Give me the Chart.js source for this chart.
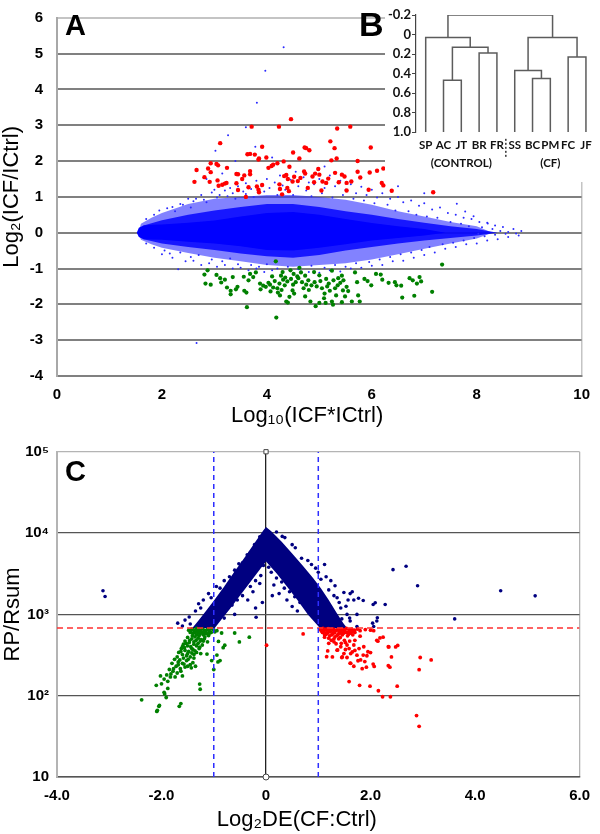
<!DOCTYPE html>
<html>
<head>
<meta charset="utf-8">
<script src="https://cdn.jsdelivr.net/npm/chart.js@4.4.1/dist/chart.umd.min.js"></script>
<style>
  html, body { margin: 0; padding: 0; background: #fff; }
  #wrap { position: relative; width: 600px; height: 834px; overflow: hidden; }
  canvas { position: absolute; }
  #chartA { left: 0; top: 0; }
  #chartB { left: 385px; top: 0; background: #fff; }
  #chartC { left: 0; top: 440px; }
  .panel { position: absolute; font: bold 29px "Liberation Sans", Arial, sans-serif; line-height: 1; color: #000; }
</style>
</head>
<body>
<div id="wrap">
  <canvas id="chartA" width="600" height="440"></canvas>
  <canvas id="chartB" width="215" height="182"></canvas>
  <canvas id="chartC" width="600" height="394"></canvas>
  <div class="panel" style="left:65px; top:11px;">A</div>
  <div class="panel" style="left:359px; top:7px; font-size:34px;">B</div>
  <div class="panel" style="left:65px; top:457px;">C</div>
</div>
<script>
// ---------- Panel A : MA plot (log10 intensity product vs log2 ratio) ----------
// envelopes of the dense blue cloud (upper / lower edge per x)
const aHaloX   = [1.55, 1.6, 1.8, 2.0, 2.5, 3.0, 3.5, 4.0, 4.5, 5.0, 5.5, 6.0, 6.5, 7.0, 7.5, 8.0, 8.3];
const aHaloUp  = [0.0, 0.25, 0.42, 0.55, 0.8, 0.95, 1.0, 1.05, 1.05, 1.0, 0.92, 0.78, 0.6, 0.45, 0.3, 0.18, 0.0];
const aHaloLow = [0.0, -0.2, -0.32, -0.42, -0.57, -0.7, -0.8, -0.9, -0.95, -0.9, -0.85, -0.75, -0.6, -0.45, -0.3, -0.16, 0.0];

const aMidX   = [1.55, 1.65, 2.0, 2.5, 3.0, 3.5, 4.0, 4.5, 5.0, 5.5, 6.0, 6.5, 7.0, 7.5, 8.0, 8.4];
const aMidUp  = [0.0, 0.2, 0.35, 0.5, 0.62, 0.72, 0.8, 0.8, 0.72, 0.6, 0.5, 0.38, 0.28, 0.18, 0.1, 0.0];
const aMidLow = [0.0, -0.18, -0.3, -0.4, -0.48, -0.58, -0.66, -0.7, -0.62, -0.5, -0.4, -0.3, -0.22, -0.15, -0.08, 0.0];

const aCoreX   = [1.52, 1.56, 1.65, 1.8, 2.0, 2.5, 3.0, 3.5, 4.0, 4.5, 5.0, 5.5, 6.0, 6.5, 7.0, 7.4];
const aCoreUp  = [0.0, 0.14, 0.2, 0.22, 0.23, 0.28, 0.34, 0.45, 0.55, 0.58, 0.5, 0.38, 0.27, 0.18, 0.1, 0.0];
const aCoreLow = [0.0, -0.12, -0.18, -0.19, -0.2, -0.25, -0.3, -0.38, -0.48, -0.5, -0.42, -0.32, -0.22, -0.15, -0.08, 0.0];

// sparse blue spots around and outside the dense cloud
const aBluePoints = [
  [2.2,0.72],[2.35,0.8],[2.5,0.95],[2.6,0.88],[2.75,1.05],[2.8,0.92],[2.95,1.12],[3.0,1.2],[3.1,1.05],[3.2,1.18],
  [3.3,1.25],[3.35,1.1],[3.45,1.3],[3.55,1.15],[3.6,1.38],[3.7,1.22],[3.8,1.45],[3.9,1.3],[4.0,1.5],[4.05,1.25],
  [4.15,1.4],[4.25,1.6],[4.3,1.32],[4.45,1.48],[4.55,1.7],[4.6,1.3],[4.7,1.55],[4.8,1.4],[4.9,1.35],[5.0,1.5],
  [5.1,1.25],[5.2,1.6],[5.3,1.3],[5.4,1.45],[5.5,1.2],[5.6,1.35],[5.7,1.1],[5.8,1.28],[5.9,1.05],[6.0,1.2],
  [6.1,0.98],[6.2,1.1],[6.35,0.95],[6.5,1.0],[6.6,0.85],[6.75,0.9],[6.9,0.75],[7.0,0.82],[7.15,0.65],[7.3,0.7],
  [7.45,0.55],[7.6,0.5],[7.75,0.42],[7.9,0.38],[8.05,0.3],[8.2,0.28],[8.35,0.2],[8.5,0.16],[8.7,0.1],[8.85,0.05],
  [2.0,-0.6],[2.2,-0.7],[2.31,-1.02],[2.45,-0.8],[2.6,-0.78],[2.75,-0.9],[2.9,-0.85],[3.05,-0.95],[3.2,-0.9],[3.35,-1.0],
  [3.5,-0.98],[3.65,-1.05],[3.8,-1.0],[3.95,-1.1],[4.1,-1.05],[4.3,-1.12],[4.5,-1.15],[4.65,-1.08],[4.8,-1.1],[5.0,-1.12],
  [5.2,-1.05],[5.4,-1.08],[5.6,-1.0],[5.8,-0.98],[6.0,-0.92],[6.2,-0.9],[6.4,-0.8],[6.6,-0.78],[6.8,-0.7],[7.0,-0.62],
  [7.2,-0.55],[7.4,-0.45],[7.6,-0.4],[7.8,-0.32],[8.0,-0.3],[8.2,-0.22],[8.4,-0.18],[8.6,-0.12],[8.8,-0.08],
  [1.7,0.38],[1.85,0.5],[1.95,0.62],[2.1,0.68],[2.25,0.6],[2.4,0.78],[2.55,0.7],[2.65,0.95],[2.85,0.85],[3.05,0.98],
  [3.25,1.02],[3.4,0.95],[3.6,1.08],[3.75,1.0],[3.95,1.15],[4.2,1.05],[4.35,1.2],[4.5,1.05],[4.75,1.18],[4.85,1.02],
  [5.05,1.1],[5.25,0.98],[5.45,1.05],[5.65,0.95],[5.85,0.9],[6.05,0.82],[6.3,0.78],[6.45,0.62],[6.7,0.6],[6.85,0.5],
  [7.05,0.45],[7.25,0.42],[7.5,0.3],[7.7,0.25],[7.85,0.18],[8.1,0.15],[8.3,0.1],[8.45,0.05],[8.6,0.02],[8.75,-0.02],
  [1.7,-0.3],[1.85,-0.42],[2.05,-0.5],[2.15,-0.58],[2.35,-0.55],[2.55,-0.68],[2.7,-0.62],[2.95,-0.75],[3.15,-0.8],[3.3,-0.72],
  [3.45,-0.88],[3.7,-0.9],[3.85,-0.95],[4.0,-0.88],[4.2,-1.0],[4.4,-0.95],[4.6,-1.02],[4.85,-0.92],[5.1,-0.98],[5.3,-0.9],
  [5.5,-0.95],[5.7,-0.85],[5.95,-0.82],[6.15,-0.75],[6.35,-0.68],[6.55,-0.6],[6.75,-0.55],[6.95,-0.48],[7.1,-0.4],[7.35,-0.32],
  [7.55,-0.28],[7.75,-0.22],[7.95,-0.15],[8.15,-0.1],[8.35,-0.06],[8.55,-0.03],
  [4.32,5.18],[3.97,4.52],[3.81,3.63],[3.6,2.94],[3.26,2.72],[3.78,2.4],[4.1,2.1],[3.4,2.0],[3.02,2.29],[2.66,-3.08],
  [4.6,2.05],[5.1,1.85],[3.15,1.65],[2.85,1.5],[6.5,1.3],[7.0,1.1],[7.62,0.81],[7.78,0.59],[7.94,0.46],[8.21,0.26],[8.03,-0.03]
];

// up-regulated (red) and down-regulated (green) genes
const aUpPoints = [
  [2.62,1.42],[2.66,1.75],[2.81,1.55],[2.88,1.79],[2.91,1.42],[2.93,1.69],[2.93,1.94],[3.04,1.92],[3.07,1.88],[3.06,1.46],
  [3.08,1.31],[3.11,2.5],[3.15,1.34],[3.2,1.37],[3.23,1.39],[3.24,1.81],[3.42,1.64],[3.45,1.63],[3.42,1.38],[3.45,1.19],
  [3.53,1.5],[3.57,1.6],[3.6,1.0],[3.63,2.19],[3.68,2.2],[3.71,2.96],[3.77,2.18],[3.68,1.72],[3.68,1.63],[3.65,1.27],
  [3.81,1.29],[3.84,1.2],[3.84,2.04],[3.85,1.13],[3.91,2.4],[3.85,2.07],[3.99,2.1],[3.91,1.33],[4.03,1.81],[4.09,1.86],
  [4.12,1.9],[4.2,1.94],[4.23,2.96],[4.24,1.35],[4.25,1.22],[4.29,1.07],[4.32,1.99],[4.33,1.58],[4.37,1.61],[4.4,1.5],
  [4.39,1.25],[4.43,1.84],[4.46,3.17],[4.5,2.24],[4.52,1.56],[4.42,1.16],[4.49,1.43],[4.59,1.44],[4.62,2.07],[4.64,1.53],
  [4.71,1.71],[4.72,2.38],[4.73,1.65],[4.75,2.36],[4.78,1.25],[4.81,2.3],[4.87,1.57],[4.9,1.41],[4.92,1.65],[4.98,1.78],
  [5.0,1.62],[5.04,1.18],[5.06,1.43],[5.13,1.39],[5.17,1.51],[5.21,2.55],[5.23,2.02],[5.29,2.36],[5.33,2.07],[5.34,2.91],
  [5.3,1.67],[5.37,1.41],[5.43,1.62],[5.48,1.57],[5.52,1.39],[5.52,1.18],[5.59,2.96],[5.61,1.43],[5.73,2.0],[5.73,1.7],
  [5.78,1.54],[5.94,1.2],[5.96,1.68],[5.98,2.38],[6.1,1.73],[6.19,1.39],[6.22,1.79],[6.22,1.32],[6.38,1.17],[7.17,1.13]
];
const aDownPoints = [
  [2.81,-1.17],[2.83,-1.42],[2.87,-1.05],[2.93,-1.45],[3.04,-1.18],[3.11,-1.27],[3.13,-1.39],[3.2,-1.31],[3.24,-1.53],[3.31,-1.62],
  [3.31,-1.72],[3.35,-1.24],[3.41,-1.58],[3.44,-1.51],[3.56,-1.23],[3.57,-1.62],[3.61,-1.67],[3.62,-2.08],[3.65,-1.33],[3.68,-1.15],
  [3.74,-1.24],[3.79,-1.11],[3.87,-1.42],[3.88,-1.58],[3.93,-1.48],[3.98,-1.51],[4.03,-1.4],[4.06,-1.45],[4.07,-1.64],[4.12,-1.53],
  [4.17,-0.8],[4.18,-2.37],[4.21,-1.67],[4.24,-1.42],[4.27,-1.2],[4.31,-1.31],[4.34,-1.47],[4.37,-1.92],[4.4,-1.95],[4.43,-1.79],
  [4.46,-1.29],[4.49,-1.61],[4.51,-1.15],[4.35,-1.25],[4.39,-1.36],[4.3,-1.1],[4.45,-1.05],[4.55,-1.38],[4.58,-1.22],[4.6,-1.27],
  [4.62,-0.98],[4.65,-1.11],[4.67,-1.38],[4.73,-1.2],[4.73,-1.78],[4.79,-1.33],[4.83,-1.92],[4.85,-1.47],[4.9,-1.1],[4.91,-1.38],
  [4.93,-2.05],[5.0,-1.96],[5.0,-1.19],[5.05,-1.55],[5.09,-1.83],[5.12,-1.96],[5.13,-1.29],[5.18,-1.42],[5.24,-1.92],[5.24,-1.06],
  [5.26,-2.01],[5.27,-1.33],[5.35,-1.47],[5.36,-1.27],[5.43,-1.2],[5.43,-1.94],[5.45,-1.61],[5.46,-1.33],[5.49,-1.78],[5.52,-1.51],
  [5.55,-1.63],[5.62,-1.92],[5.68,-1.11],[5.72,-1.38],[5.74,-1.75],[5.77,-1.92],[5.86,-1.29],[5.92,-1.35],[5.99,-1.47],[6.08,-1.15],
  [6.17,-1.17],[6.2,-1.31],[6.32,-1.4],[6.44,-1.38],[6.47,-1.47],[6.56,-1.48],[6.58,-1.81],[6.72,-1.27],[6.78,-1.33],[6.81,-1.76],
  [6.86,-1.42],[6.91,-1.24],[6.94,-1.36],[7.15,-1.65],[7.34,-0.89],[4.1,-1.22],[4.15,-1.35],[4.2,-1.55],[4.25,-1.75],[4.28,-1.6],
  [4.5,-1.45],[4.52,-1.7],[4.7,-1.55],[4.75,-1.45],[4.8,-1.6],[4.95,-1.5],[5.02,-1.35],[5.1,-1.7],[5.15,-1.5],[5.2,-1.62],
  [5.3,-1.55],[5.32,-1.75],[5.4,-1.4]
];

// ---------- Panel B : sample dendrogram ----------
const leafLabels = ['SP', 'AC', 'JT', 'BR', 'FR', 'SS', 'BC', 'PM', 'FC', 'JF'];
const groupLabels = { 2: '(CONTROL)', 7: '(CF)' };
// each merge: left x, right x, merge height, left child height, right child height
const mergeLeft   = [1, 3, 1.5, 0, 6, 5, 8, 5.75, 1.25];
const mergeRight  = [2, 4, 3.5, 2.5, 7, 6.5, 9, 8.5, 7.125];
const mergeHeight = [0.47, 0.19, 0.13, 0.03, 0.45, 0.37, 0.23, 0.03, -0.2];
const mergeBaseL  = [1.0, 1.0, 0.47, 1.0, 1.0, 1.0, 1.0, 0.37, 0.03];
const mergeBaseR  = [1.0, 1.0, 0.19, 0.13, 1.0, 0.45, 1.0, 0.23, 0.03];
const dendroTicks = [-0.2, 0, 0.2, 0.4, 0.6, 0.8, 1.0];
const dendroTickLabels = ['-0.2', '0', '0.2', '0.4', '0.6', '0.8', '1.0'];

// ---------- Panel C : rank product plot ----------
const cBandX = [-1.41, -1.3, -1.15, -1.0, -0.8, -0.6, -0.4, -0.2, -0.05, 0, 0.1, 0.3, 0.5, 0.7, 0.9, 1.05, 1.2, 1.35, 1.48, 1.55,
                1.03, 0.8, 0.6, 0.4, 0.2, 0.08, 0, -0.1, -0.3, -0.5, -0.7, -0.85, -0.98];
const cBandY = [680, 830, 1100, 1470, 2200, 3400, 5100, 7900, 10800, 11900, 10500, 7800, 5600, 4000, 2800, 2100, 1500, 1050, 780, 680,
                680, 1000, 1500, 2200, 3200, 3900, 4470, 3700, 2500, 1700, 1150, 870, 680];

const cMidPoints = [
  [-0.1,3000],[-0.2,2600],[-0.3,2200],[-0.45,1700],[-0.55,1500],[-0.65,1300],[-0.35,1500],[-0.2,1200],[-0.07,1400],[-0.19,920],
  [0.1,3300],[0.2,2800],[0.3,2500],[0.35,2100],[0.45,1900],[0.55,1650],[0.65,1400],[0.75,1250],[0.4,1500],[0.25,1800],
  [0.15,2300],[0.05,3800],[-0.05,4000],[0.6,1100],[0.85,1000],[-0.8,900],[-0.25,1900],[-0.12,2400],[0.12,1700],[0.5,1250],
  [-0.4,2300],[-0.6,1000],
  [-1.29,1350],[-1.47,930],[-1.69,780],[-1.2,1500],[-1.1,1800],[-0.95,2200],[-0.8,2600],[-0.6,3500],[-0.45,4300],[-0.3,5800],
  [-1.35,1100],[-1.55,850],[-1.05,1600],[-0.88,2100],[-0.7,2900],[-0.52,4200],[-0.36,5400],[-0.22,7200],[-0.12,9000],[-1.45,760],
  [-1.6,720],[-1.25,1200],
  [0.31,9100],[0.36,8800],[0.56,6600],[0.68,4900],[0.87,4100],[1.12,4100],[1.0,3300],[1.24,2600],[1.32,2250],[1.49,1860],
  [1.61,1800],[1.68,1500],[1.74,1000],[2.05,1320],[2.28,1320],[2.12,830],[2.06,710],[1.74,710],[1.61,830],[1.43,1200],
  [1.53,1260],[1.57,1500],[1.65,1900],[1.77,1580],[1.86,1480],[2.09,1390],[1.15,2900],[1.3,1700],[1.4,1400],[1.55,1000],
  [1.6,900],[0.8,4600],[0.5,7200],[0.2,10300],[0.95,3700],[1.05,2700],[1.2,2000],[1.36,1600],[1.45,880],
  [-3.12,1950],[-3.08,1660],[2.43,3550],[2.68,3900],[2.9,2250],[4.49,1950],[5.15,1690],[3.61,880],[2.13,910],[2.04,780]
];
const cUpPoints = [
  [1.05,665],[1.1,640],[1.15,660],[1.2,630],[1.25,655],[1.3,620],[1.35,645],[1.4,610],[1.45,660],[1.5,630],
  [1.55,605],[1.6,650],[1.65,620],[1.08,600],[1.18,590],[1.28,580],[1.38,570],[1.48,585],[1.58,570],[1.7,600],
  [1.75,660],[1.12,560],[1.22,545],[1.32,530],[1.06,625],[1.8,630],[1.9,650],[2.0,640],[2.06,630],[2.18,513],
  [1.12,525],[1.25,480],[1.34,435],[1.43,400],[1.49,330],[1.59,380],[1.65,345],[1.74,315],[1.81,275],[1.87,400],
  [1.37,365],[1.27,300],[1.46,300],[1.62,250],[1.68,230],[1.93,310],[2.12,480],[2.24,525],[2.34,400],[2.37,224],
  [2.05,245],[1.84,215],[2.4,300],[2.52,415],[1.16,302],[1.18,355],[1.36,363],[1.45,295],[1.55,295],[1.61,251],
  [1.59,149],[1.79,134],[1.99,131],[2.15,115],[2.23,97],[2.38,97],[2.51,131],[2.34,234],[2.07,229],[1.92,224],
  [1.89,263],[1.76,269],[1.86,316],[1.95,347],[2.0,339],[2.14,468],[2.35,398],[2.48,398],[2.95,295],[2.93,209],
  [3.16,275],[2.88,57],[2.93,42],[0.71,575],[0.01,417],[1.7,480],[1.52,450],[1.42,520],[1.3,500],[1.2,440],
  [1.04,650],[1.09,670],[1.14,645],[1.19,668],[1.24,640],[1.29,660],[1.34,630],[1.39,655],[1.44,625],[1.49,648],
  [1.54,670],[1.59,620],[1.64,660],[1.69,640],[1.1,610],[1.16,595],[1.23,610],[1.31,595],[1.42,590],[1.52,600],
  [1.62,590],[1.15,570],[1.26,560],[1.36,550],[1.46,560],[1.56,545],[1.66,560],[1.2,510],[1.39,500],[1.5,480],
  [1.6,470],[1.3,460],[1.44,440],[1.55,420],[1.68,420],[1.78,380],[1.7,360],[1.52,370],[1.62,330],[1.8,540]
];
const cDownPoints = [
  [-1.42,660],[-1.38,640],[-1.33,670],[-1.28,650],[-1.22,665],[-1.18,640],[-1.12,655],[-1.05,670],[-1.0,645],[-1.35,610],
  [-1.3,590],[-1.25,620],[-1.15,600],[-1.08,590],[-1.4,580],[-1.45,600],[-1.2,560],[-1.28,545],[-1.36,530],[-1.1,550],
  [-0.98,610],[-1.48,640],
  [-1.5,520],[-1.42,500],[-1.34,480],[-1.26,470],[-1.18,500],[-1.55,470],[-1.47,450],[-1.38,430],[-1.3,440],[-1.22,420],
  [-1.58,430],[-1.5,410],[-1.44,400],[-1.12,460],[-1.6,400],
  [-1.62,380],[-1.55,360],[-1.48,350],[-1.4,370],[-1.33,340],[-1.67,340],[-1.6,320],[-1.52,310],[-1.45,300],[-1.7,300],
  [-1.38,320],[-1.28,380],[-1.25,330],
  [-1.75,280],[-1.68,260],[-1.6,250],[-1.52,270],[-1.45,240],[-1.8,250],[-1.72,230],[-1.64,215],[-1.55,225],[-1.85,210],
  [-1.78,200],[-1.4,255],[-1.35,230],[-1.43,220],
  [-1.9,180],[-1.83,170],[-1.95,160],[-1.88,150],[-2.0,140],[-2.02,175],[-1.7,190],[-1.94,105],[-1.91,95],[-1.95,110],
  [-1.88,123],[-2.1,134],[-1.27,139],[-1.26,120],[-1.6,175],
  [-2.38,89],[-2.09,64],[-2.05,74],[-2.04,76],[-2.08,66],[-1.66,74],[-1.63,80],
  [-0.94,630],[-0.85,590],[-0.6,590],[-0.51,458],[-0.32,525],[-0.82,390],[-0.91,465],[-1.04,270],[-0.88,270],[-0.79,417],
  [-0.92,260],[-0.94,316],[-1.13,325],[-1.0,210],
  [-1.4,650],[-1.31,630],[-1.24,605],[-1.16,620],[-1.09,635],[-1.02,660],[-1.44,625],[-1.37,595],[-1.26,575],[-1.14,580],
  [-1.05,600],[-1.33,560],[-1.2,590],[-1.41,545],[-1.17,530],[-1.3,510],[-1.24,490],[-1.46,480],[-1.38,460],[-1.2,470],
  [-1.53,440],[-1.33,410],[-1.27,395],[-1.42,380],[-1.56,390],[-1.36,355],[-1.5,330],[-1.63,350],[-1.42,335],[-1.58,290],
  [-1.49,280],[-1.65,275],[-1.38,290],[-1.57,245],[-1.68,240],[-1.5,230],[-1.77,215],[-1.63,200],[-1.82,185],[-1.74,170]
];
const cFoldCut = [-1, 1];        // blue dashed lines (log2 fold change)
const cRankCut = 680;            // red dashed line (RP/Rsum threshold)
const cXTickLabels = ['-4.0', '-2.0', '0', '2.0', '4.0', '6.0'];
const cYTickValues = [10, 100, 1000, 10000, 100000];
const cYTickLabels = ['10', '10²', '10³', '10⁴', '10⁵'];

// ---------- helpers ----------
Chart.defaults.font.family = '"Liberation Sans", Arial, sans-serif';
Chart.defaults.color = '#000';

function toXY(pairs) {
  return pairs.map(p => ({ x: p[0], y: p[1] }));
}

function envelope(xs, up, low) {
  const pts = xs.map((x, i) => ({ x: x, y: up[i] }));
  for (let i = xs.length - 1; i >= 0; i--) pts.push({ x: xs[i], y: low[i] });
  pts.push(pts[0]);
  return pts;
}

function shapeSet(points, color, order) {
  return {
    data: points, showLine: true, fill: 'shape', backgroundColor: color,
    borderColor: 'rgba(0,0,0,0)', borderWidth: 1, pointRadius: 0, order: order
  };
}

function dotSet(pairs, color, radius, order) {
  return {
    data: toXY(pairs), backgroundColor: color, borderWidth: 0,
    pointRadius: radius, order: order
  };
}

const baseOptions = {
  responsive: false,
  animation: false,
  events: [],
  plugins: { legend: { display: false }, tooltip: { enabled: false } }
};

// ---------- chart A ----------
new Chart(document.getElementById('chartA'), {
  type: 'scatter',
  data: {
    datasets: [
      shapeSet(envelope(aHaloX, aHaloUp, aHaloLow), 'rgba(40,40,255,0.58)', 6),
      shapeSet(envelope(aMidX, aMidUp, aMidLow), 'rgba(0,0,255,0.82)', 5),
      shapeSet(envelope(aCoreX, aCoreUp, aCoreLow), '#0000ff', 4),
      dotSet(aBluePoints, '#2a2aff', 1, 3),
      dotSet(aDownPoints, '#008000', 2.1, 2),
      dotSet(aUpPoints, '#ff0000', 2.2, 1)
    ]
  },
  options: Object.assign({}, baseOptions, {
    layout: { padding: { top: 4, right: 10, left: 0, bottom: 0 } },
    scales: {
      x: {
        type: 'linear', min: 0, max: 10,
        ticks: { stepSize: 2, padding: 10, font: { size: 15, weight: 'bold' } },
        grid: { drawTicks: false, lineWidth: 1.5, color: c => (c.tick && c.tick.value === 10 ? '#c4c4c4' : 'rgba(0,0,0,0)') },
        border: { color: '#808080', width: 2 },
        title: { display: true, text: 'Log₁₀(ICF*ICtrl)\u00a0\u00a0\u00a0\u00a0', font: { size: 22, lineHeight: 1 }, padding: { top: 0, bottom: 13 } },
        afterFit: s => { s.height = 64; }
      },
      y: {
        min: -4, max: 6,
        ticks: { stepSize: 1, padding: 14, font: { size: 15, weight: 'bold', lineHeight: 0.5 } },
        grid: { drawTicks: false, lineWidth: 2, color: c => (c.tick && c.tick.value === 6 ? '#c4c4c4' : '#808080') },
        border: { color: '#a8a8a8', width: 2 },
        title: { display: true, text: 'Log₂(ICF/ICtrl)', font: { size: 22, lineHeight: 1 }, padding: { top: 1, bottom: 0 } },
        afterFit: s => { s.width = 57; }
      }
    }
  })
});

// ---------- chart B (dendrogram inset) ----------
const dendroSets = mergeLeft.map((xl, i) => ({
  data: [
    { x: xl, y: mergeBaseL[i] }, { x: xl, y: mergeHeight[i] },
    { x: mergeRight[i], y: mergeHeight[i] }, { x: mergeRight[i], y: mergeBaseR[i] }
  ],
  showLine: true, borderColor: '#5c5c5c', borderWidth: 1.5, pointRadius: 0
}));
dendroSets.push({
  data: [{ x: 4.5, y: 1.07 }, { x: 4.5, y: 1.26 }],
  showLine: true, borderColor: '#333', borderWidth: 1.5, borderDash: [2, 2], pointRadius: 0, clip: false
});

const dendroFont = 'Lato, "Open Sans", sans-serif';
new Chart(document.getElementById('chartB'), {
  type: 'scatter',
  data: { datasets: dendroSets },
  options: Object.assign({}, baseOptions, {
    layout: { padding: { top: 15, right: 8, left: 0, bottom: 0 } },
    scales: {
      x: {
        type: 'linear', min: -0.545, max: 9.34,
        afterBuildTicks: s => { s.ticks = leafLabels.map((l, i) => ({ value: i })); },
        ticks: {
          autoSkip: false, maxRotation: 0, padding: 5, color: '#111',
          font: { family: dendroFont, size: 11.5, weight: 'bold', lineHeight: 1.5 },
          callback: (v, i) => (groupLabels[i] ? [leafLabels[i], groupLabels[i]] : leafLabels[i])
        },
        grid: { display: false, drawTicks: false },
        border: { display: false },
        afterFit: s => { s.height = 50; }
      },
      y: {
        reverse: true, min: -0.2, max: 1.0,
        afterBuildTicks: s => { s.ticks = dendroTicks.map(v => ({ value: v })); },
        ticks: {
          padding: 1, color: '#111',
          font: { family: dendroFont, size: 13, weight: 'bold', lineHeight: 0.5 },
          callback: (v, i) => dendroTickLabels[i]
        },
        grid: { drawOnChartArea: false, drawTicks: true, tickLength: 4, color: '#444' },
        border: { color: '#444', width: 1.2 },
        afterFit: s => { s.width = 31; }
      }
    }
  })
});

// ---------- chart C ----------
const cLines = [];
cFoldCut.forEach(x => {
  cLines.push({
    data: [{ x: x, y: 10 }, { x: x, y: 100000 }], showLine: true, borderColor: '#2e2eff',
    borderWidth: 1.5, borderDash: [5, 4], pointRadius: 0, order: 0
  });
});
cLines.push({
  data: [{ x: -4, y: cRankCut }, { x: 6, y: cRankCut }], showLine: true, borderColor: '#ff3030',
  borderWidth: 1.5, borderDash: [6, 4], pointRadius: 0, order: 0
});
cLines.push({
  data: [{ x: 0, y: 100000 }, { x: 0, y: 10 }], pointStyle: ['rect', 'circle'], pointRadius: 3,
  backgroundColor: '#fff', borderColor: '#444', borderWidth: 1, clip: false, order: 0
});

new Chart(document.getElementById('chartC'), {
  type: 'scatter',
  data: {
    datasets: [
      shapeSet(cBandX.map((x, i) => ({ x: x, y: cBandY[i] })), '#000080', 5),
      dotSet(cMidPoints, '#000080', 1.8, 4),
      dotSet(cDownPoints, '#008000', 1.9, 3),
      dotSet(cUpPoints, '#ff0000', 1.9, 2)
    ].concat(cLines)
  },
  options: Object.assign({}, baseOptions, {
    layout: { padding: { top: 9, right: 10, left: 0, bottom: 0 } },
    scales: {
      x: {
        type: 'linear', min: -4, max: 6,
        ticks: { stepSize: 2, padding: 10, font: { size: 15, weight: 'bold' }, callback: (v, i) => cXTickLabels[i] },
        grid: {
          drawTicks: false, lineWidth: 1.3,
          color: c => (c.tick && c.tick.value === 0 ? '#222' : (c.tick && c.tick.value === 6 ? '#b4b4b4' : 'rgba(0,0,0,0)'))
        },
        border: { color: '#555', width: 1.5 },
        title: { display: true, text: 'Log₂DE(CF:Ctrl)\u00a0\u00a0\u00a0\u00a0\u00a0\u00a0\u00a0', font: { size: 22, lineHeight: 1 }, padding: { top: 0, bottom: 3 } },
        afterFit: s => { s.height = 57; }
      },
      y: {
        type: 'logarithmic', min: 10, max: 100000,
        afterBuildTicks: s => { s.ticks = cYTickValues.map(v => ({ value: v })); },
        ticks: { padding: 8, font: { size: 15, weight: 'bold', lineHeight: 0.5 }, callback: (v, i) => cYTickLabels[i] },
        grid: { drawTicks: false, lineWidth: 1.3, color: c => (c.tick && c.tick.value === 100000 ? '#b4b4b4' : '#555') },
        border: { color: '#b4b4b4', width: 2 },
        title: { display: true, text: 'RP/Rsum', font: { size: 22, lineHeight: 1 }, padding: { top: 2, bottom: 0 } },
        afterFit: s => { s.width = 57; }
      }
    }
  })
});
</script>
</body>
</html>
